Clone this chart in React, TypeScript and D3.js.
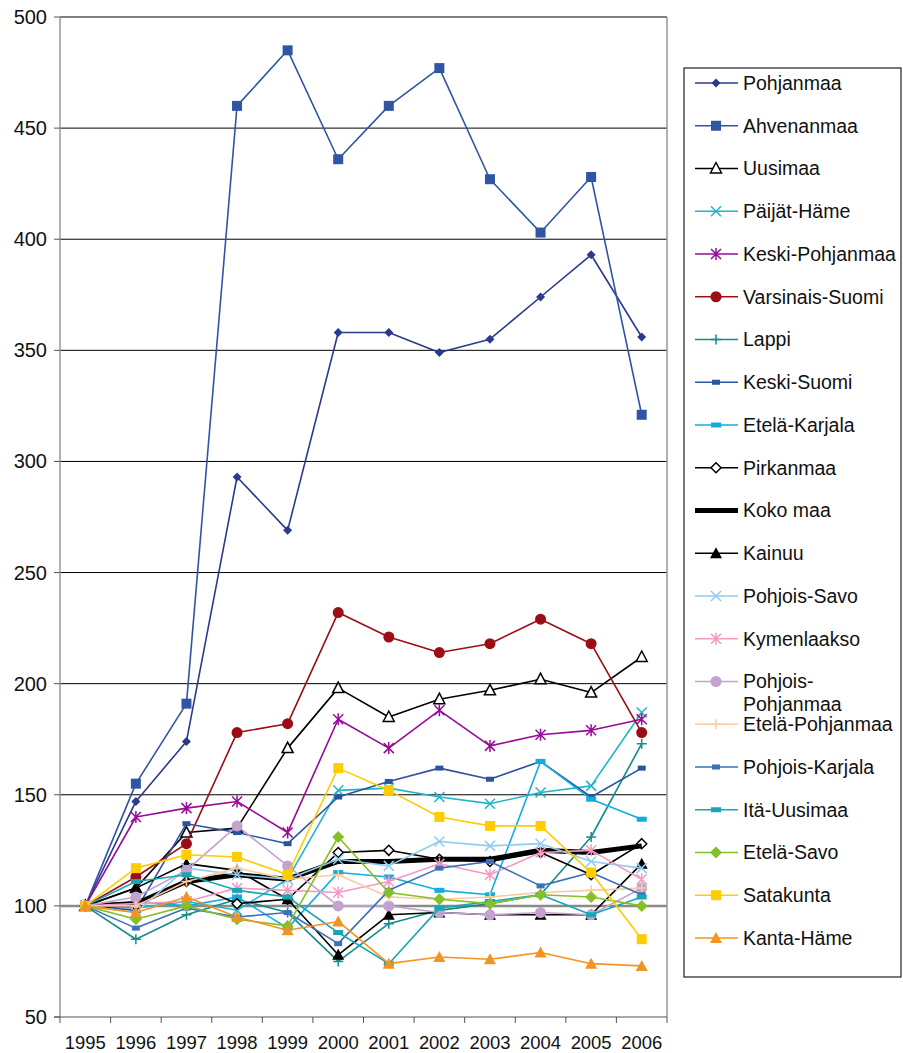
import React from 'react';
import * as d3 from 'd3';

// years on the category axis
const years = ['1995', '1996', '1997', '1998', '1999', '2000', '2001', '2002', '2003', '2004', '2005', '2006'];
const yTicks = [50, 100, 150, 200, 250, 300, 350, 400, 450, 500];

// index values per region (1995 = 100)
const pohjanmaa = [100, 147, 174, 293, 269, 358, 358, 349, 355, 374, 393, 356];
const ahvenanmaa = [100, 155, 191, 460, 485, 436, 460, 477, 427, 403, 428, 321];
const uusimaa = [100, 108, 133, 135, 171, 198, 185, 193, 197, 202, 196, 212];
const paijatHame = [100, 99, 102, 98, 112, 152, 153, 149, 146, 151, 154, 187];
const keskiPohjanmaa = [100, 140, 144, 147, 133, 184, 171, 188, 172, 177, 179, 184];
const varsinaisSuomi = [100, 113, 128, 178, 182, 232, 221, 214, 218, 229, 218, 178];
const lappi = [100, 85, 96, 103, 97, 75, 92, 98, 101, 105, 131, 173];
const keskiSuomi = [100, 98, 137, 133, 128, 149, 156, 162, 157, 165, 149, 162];
const etelaKarjala = [100, 102, 100, 104, 90, 115, 113, 107, 105, 165, 148, 139];
const pirkanmaa = [100, 100, 111, 101, 103, 124, 125, 121, 120, 124, 114, 128];
const kokoMaa = [100, 101, 111, 114, 112, 120, 120, 121, 121, 125, 124, 127];
const kainuu = [100, 108, 119, 116, 103, 78, 96, 97, 96, 96, 96, 119];
const pohjoisSavo = [100, 97, 117, 114, 112, 121, 118, 129, 127, 128, 120, 117];
const kymenlaakso = [100, 101, 102, 108, 107, 106, 111, 119, 114, 124, 125, 112];
const pohjoisPohjanmaa = [100, 104, 116, 136, 118, 100, 100, 97, 96, 97, 96, 108];
const etelaPohjanmaa = [100, 100, 111, 117, 112, 114, 104, 103, 104, 106, 107, 108];
const pohjoisKarjala = [100, 90, 99, 95, 97, 83, 107, 117, 120, 109, 115, 105];
const itaUusimaa = [100, 111, 114, 107, 104, 88, 74, 99, 102, 105, 96, 104];
const etelaSavo = [100, 94, 100, 94, 91, 131, 106, 103, 101, 105, 104, 100];
const satakunta = [100, 117, 123, 122, 114, 162, 152, 140, 136, 136, 115, 85];
const kantaHame = [100, 97, 104, 95, 89, 93, 74, 77, 76, 79, 74, 73];

const series = [
  { name: 'Pohjanmaa', values: pohjanmaa, color: '#2b3a8c', marker: 'diamond' },
  { name: 'Ahvenanmaa', values: ahvenanmaa, color: '#2f55a4', marker: 'square' },
  { name: 'Uusimaa', values: uusimaa, color: '#000000', marker: 'opentriangle' },
  { name: 'Päijät-Häme', values: paijatHame, color: '#21b5cb', marker: 'x' },
  { name: 'Keski-Pohjanmaa', values: keskiPohjanmaa, color: '#990a99', marker: 'asterisk' },
  { name: 'Varsinais-Suomi', values: varsinaisSuomi, color: '#9b0e16', marker: 'circle' },
  { name: 'Lappi', values: lappi, color: '#138c8a', marker: 'plus' },
  { name: 'Keski-Suomi', values: keskiSuomi, color: '#2c53a2', marker: 'smallrect' },
  { name: 'Etelä-Karjala', values: etelaKarjala, color: '#10aee0', marker: 'rect' },
  { name: 'Pirkanmaa', values: pirkanmaa, color: '#000000', marker: 'opendiamond' },
  { name: 'Koko maa', values: kokoMaa, color: '#000000', marker: 'none' },
  { name: 'Kainuu', values: kainuu, color: '#000000', marker: 'triangle' },
  { name: 'Pohjois-Savo', values: pohjoisSavo, color: '#8ecdf0', marker: 'x' },
  { name: 'Kymenlaakso', values: kymenlaakso, color: '#f29ac4', marker: 'asterisk' },
  { name: 'Pohjois-Pohjanmaa', values: pohjoisPohjanmaa, color: '#c4a2cf', marker: 'circle' },
  { name: 'Etelä-Pohjanmaa', values: etelaPohjanmaa, color: '#f9cba2', marker: 'plus' },
  { name: 'Pohjois-Karjala', values: pohjoisKarjala, color: '#3e6fb7', marker: 'smallrect' },
  { name: 'Itä-Uusimaa', values: itaUusimaa, color: '#17a6b5', marker: 'rect' },
  { name: 'Etelä-Savo', values: etelaSavo, color: '#86bf27', marker: 'bigdiamond' },
  { name: 'Satakunta', values: satakunta, color: '#ffcc00', marker: 'square' },
  { name: 'Kanta-Häme', values: kantaHame, color: '#f39321', marker: 'triangle' },
];

const FONT = '"Liberation Sans", Arial, sans-serif';

function Marker({ type, x, y, color }) {
  switch (type) {
    case 'diamond':
      return <path d={`M${x},${y - 4.5}L${x + 4.5},${y}L${x},${y + 4.5}L${x - 4.5},${y}Z`} fill={color} />;
    case 'bigdiamond':
      return <path d={`M${x},${y - 6}L${x + 6},${y}L${x},${y + 6}L${x - 6},${y}Z`} fill={color} />;
    case 'opendiamond':
      return <path d={`M${x},${y - 5}L${x + 5},${y}L${x},${y + 5}L${x - 5},${y}Z`} fill="#fff" stroke={color} strokeWidth={1.5} />;
    case 'square':
      return <rect x={x - 5} y={y - 5} width={10} height={10} fill={color} />;
    case 'smallrect':
      return <rect x={x - 4} y={y - 2.5} width={8} height={5} fill={color} />;
    case 'rect':
      return <rect x={x - 5} y={y - 2.5} width={10} height={5} fill={color} />;
    case 'circle':
      return <circle cx={x} cy={y} r={5.5} fill={color} />;
    case 'triangle':
      return <path d={`M${x},${y - 6}L${x + 6},${y + 5}L${x - 6},${y + 5}Z`} fill={color} />;
    case 'opentriangle':
      return <path d={`M${x},${y - 6}L${x + 5.5},${y + 4.5}L${x - 5.5},${y + 4.5}Z`} fill="#fff" stroke={color} strokeWidth={1.5} />;
    case 'x':
      return <path d={`M${x - 5},${y - 5}L${x + 5},${y + 5}M${x - 5},${y + 5}L${x + 5},${y - 5}`} stroke={color} strokeWidth={1.5} />;
    case 'plus':
      return <path d={`M${x - 5},${y}L${x + 5},${y}M${x},${y - 5}L${x},${y + 5}`} stroke={color} strokeWidth={1.5} />;
    case 'asterisk':
      return <path d={`M${x - 5},${y - 5}L${x + 5},${y + 5}M${x - 5},${y + 5}L${x + 5},${y - 5}M${x},${y - 6}L${x},${y + 6}`} stroke={color} strokeWidth={1.5} />;
    default:
      return null;
  }
}

export default function App() {
  const left = 60, right = 667, top = 17, bottom = 1017;

  const x = d3.scaleBand().domain(years).range([left, right]);
  const y = d3.scaleLinear().domain([50, 500]).range([bottom, top]);
  const cx = (yr) => x(yr) + x.bandwidth() / 2;

  const line = d3.line().x((d, i) => cx(years[i])).y((d) => y(d));

  const legendX = 684, legendY = 68;
  const itemY = (i) => 83 + i * 42.75;

  return (
    <svg width={903} height={1053} style={{ position: 'absolute', left: 0, top: 0, background: '#fff' }}>
      {/* gridlines */}
      {yTicks.filter((v) => v > 50).map((v) => (
        <line key={v} x1={left} x2={right} y1={y(v)} y2={y(v)}
          stroke={v === 100 ? '#8a8a8a' : '#000'} strokeWidth={v === 100 ? 2.5 : 1} />
      ))}
      {/* plot borders */}
      <line x1={left} x2={left} y1={top} y2={bottom} stroke="#999" strokeWidth={1.5} />
      <line x1={right} x2={right} y1={top} y2={bottom} stroke="#999" strokeWidth={1.5} />
      <line x1={left - 6} x2={right} y1={bottom} y2={bottom} stroke="#555" strokeWidth={1.2} />

      {/* y axis ticks & labels */}
      {yTicks.map((v) => (
        <g key={v}>
          <line x1={left - 6} x2={left} y1={y(v)} y2={y(v)} stroke="#555" />
          <text x={left - 13} y={y(v)} dy="0.35em" textAnchor="end" fontFamily={FONT} fontSize={20} fill="#111">{v}</text>
        </g>
      ))}

      {/* x axis ticks & labels */}
      {d3.range(years.length + 1).map((i) => (
        <line key={i} x1={left + i * x.bandwidth()} x2={left + i * x.bandwidth()} y1={bottom} y2={bottom + 6} stroke="#555" />
      ))}
      {years.map((yr) => (
        <text key={yr} x={cx(yr)} y={1049} textAnchor="middle" fontFamily={FONT} fontSize={19}
          textLength={41} lengthAdjust="spacingAndGlyphs" fill="#111">{yr}</text>
      ))}

      {/* series */}
      {series.map((s) => (
        <g key={s.name}>
          <path d={line(s.values)} fill="none" stroke={s.color}
            strokeWidth={s.name === 'Koko maa' ? 5 : 1.6} strokeLinejoin="round" />
          {s.values.map((v, i) => (
            <Marker key={i} type={s.marker} x={cx(years[i])} y={y(v)} color={s.color} />
          ))}
        </g>
      ))}

      {/* legend */}
      <rect x={legendX} y={legendY} width={217} height={909} fill="#fff" stroke="#222" strokeWidth={1.2} />
      {series.map((s, i) => {
        const ly = itemY(i);
        const two = s.name === 'Pohjois-Pohjanmaa';
        return (
          <g key={s.name}>
            <line x1={695} x2={738} y1={ly} y2={ly} stroke={s.color} strokeWidth={s.name === 'Koko maa' ? 5 : 1.6} />
            <Marker type={s.marker} x={716} y={ly} color={s.color} />
            {two ? (
              <text x={743} y={ly} dy="0.35em" fontFamily={FONT} fontSize={19.5} fill="#111">
                <tspan x={743}>Pohjois-</tspan>
                <tspan x={743} dy={23}>Pohjanmaa</tspan>
              </text>
            ) : (
              <text x={743} y={ly} dy="0.35em" fontFamily={FONT} fontSize={19.5} fill="#111">{s.name}</text>
            )}
          </g>
        );
      })}
    </svg>
  );
}
